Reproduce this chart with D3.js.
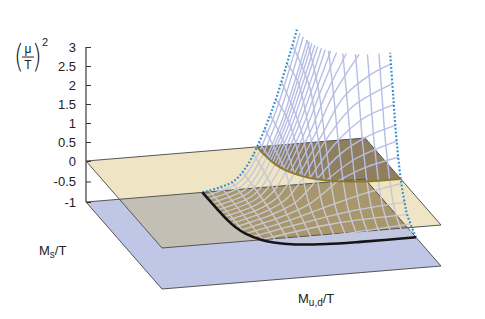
<!DOCTYPE html>
<html><head><meta charset="utf-8">
<script src="https://cdn.jsdelivr.net/npm/d3@7"></script>
<style>html,body{margin:0;background:#fff}svg{display:block}text{font-family:"Liberation Sans",Arial,sans-serif;fill:#222}</style>
</head><body><svg id="c" width="485" height="319"></svg>
<script>
const zTicks=[3,2.5,2,1.5,1,0.5,0,-0.5,-1];
const planeCorners=[[0,0],[1,0],[1,1],[0,1]];
const overlapCorners=[[0,.44],[.88,.44],[.88,1],[0,1]];
// lines of constant Ms: [Ms, [[Mud, z], ...]]
const constMsLines=[
[.04,[[.417,-1],[.535,-.75],[.57,-.5],[.613,0],[.67,1],[.715,2],[.756,3]]],
[.08,[[.417,-1],[.535,-.75],[.57,-.5],[.614,0],[.671,1],[.716,2],[.757,3]]],
[.12,[[.417,-1],[.536,-.75],[.572,-.5],[.615,0],[.673,1],[.718,2],[.76,3]]],
[.14,[[.616,0],[.675,1],[.72,2],[.763,3]]],
[.16,[[.417,-1],[.536,-.75],[.574,-.5],[.618,0],[.677,1],[.723,2],[.766,3]]],
[.18,[[.62,0],[.68,1],[.727,2],[.771,3]]],
[.20,[[.418,-1],[.537,-.75],[.578,-.5],[.623,0],[.684,1],[.731,2],[.776,3]]],
[.22,[[.627,0],[.689,1],[.738,2],[.784,3]]],
[.24,[[.418,-1],[.538,-.75],[.584,-.5],[.631,0],[.694,1],[.745,2],[.792,3]]],
[.26,[[.636,0],[.702,1],[.754,2],[.806,3]]],
[.28,[[.419,-1],[.542,-.75],[.593,-.5],[.642,0],[.71,1],[.764,2],[.822,3]]],
[.30,[[.65,0],[.721,1],[.78,2],[.852,3]]],
[.32,[[.42,-1],[.547,-.75],[.606,-.5],[.659,0],[.734,1],[.8,2],[.892,3]]],
[.34,[[.67,0],[.752,1],[.83,1.95],[.93,2.5],[1,2.72]]],
[.36,[[.422,-1],[.554,-.75],[.622,-.5],[.683,0],[.77,1],[.86,1.75],[1,2.25]]],
[.38,[[.70,0],[.79,.85],[.89,1.45],[1,1.75]]],
[.40,[[.426,-1],[.565,-.75],[.646,-.5],[.719,0],[.80,.6],[.9,1.02],[1,1.25]]],
[.42,[[.748,0],[.85,.5],[1,.88]]],
[.44,[[.432,-1],[.582,-.75],[.68,-.5],[.781,0],[.88,.3],[1,.5]]],
[.48,[[.441,-1],[.606,-.75],[.734,-.5],[.86,-.27],[1,-.09]]],
[.52,[[.454,-1],[.647,-.75],[.80,-.58],[1,-.46]]],
[.56,[[.475,-1],[.739,-.75],[1,-.675]]],
[.60,[[.509,-1],[.75,-.93],[1,-.82]]],
[.64,[[.576,-1],[.8,-.96],[1,-.92]]]];
// lines of constant Mud: [Mud, [[Ms, z], ...]]
const constMudLines=[
[.44,[[.476,-1],[.25,-.97],[0,-.95]]],
[.48,[[.567,-1],[.3,-.93],[0,-.87]]],
[.52,[[.609,-1],[.35,-.88],[0,-.78]]],
[.56,[[.633,-1],[.385,-.75],[0,-.57]]],
[.60,[[.649,-1],[.472,-.75],[.305,-.5],[0,-.15]]],
[.62,[[.177,0],[0,.12]]],
[.64,[[.657,-1],[.515,-.75],[.391,-.5],[.273,0],[0,.47]]],
[.66,[[.322,0],[.18,.5],[0,.82]]],
[.68,[[.663,-1],[.54,-.75],[.44,-.5],[.356,0],[.182,1],[0,1.22]]],
[.70,[[.382,0],[.258,1],[0,1.67]]],
[.72,[[.667,-1],[.555,-.75],[.471,-.5],[.401,0],[.30,1],[.139,2],[0,2.12]]],
[.74,[[.417,0],[.328,1],[.23,2],[0,2.6]]],
[.76,[[.669,-1],[.565,-.75],[.492,-.5],[.429,0],[.349,1],[.273,2],[.119,3]]],
[.80,[[.67,-1],[.57,-.75],[.507,-.5],[.447,0],[.377,1],[.321,2],[.253,3]]],
[.84,[[.67,-1],[.573,-.75],[.516,-.5],[.459,0],[.394,1],[.347,2],[.295,3]]],
[.88,[[.67,-1],[.575,-.75],[.521,-.5],[.465,0],[.403,1],[.36,2],[.316,3]]],
[.92,[[.67,-1],[.575,-.75],[.524,-.5],[.469,0],[.408,1],[.367,2],[.326,3]]],
[.96,[[.67,-1],[.575,-.75],[.525,-.5],[.47,0],[.41,1],[.37,2],[.33,3]]]];
const backEdge=[[.417,-1],[.527,-.8],[.577,-.44],[.613,0],[.67,1],[.715,2],[.756,3]];
const rightEdge=[[.67,-1],[.553,-.69],[.525,-.5],[.47,0],[.41,1],[.37,2],[.33,3]];
const blackCurve=[[.417,0],[.418,.2],[.42,.32],[.426,.40],[.441,.48],[.475,.56],[.509,.60],[.576,.64],[.68,.663],[.8,.67],[1,.67]];
const goldCurve=[[.613,0],[.614,.08],[.623,.2],[.642,.28],[.683,.36],[.719,.40],[.781,.44],[.84,.459],[.92,.469],[1,.47]];

const xU=d3.scaleLinear().domain([0,1]).range([0,279]);
const xV=d3.scaleLinear().domain([0,1]).range([86,162]);
const yU=d3.scaleLinear().domain([0,1]).range([0,-23]);
const yV=d3.scaleLinear().domain([0,1]).range([0,87]);
const yZ=d3.scaleLinear().domain([-1,0,3]).range([202,161,47]);
const P=(u,v,z)=>[xU(u)+xV(v),yZ(z)+yU(u)+yV(v)];
const svg=d3.select("#c");
const poly=d3.line().curve(d3.curveLinear);
const smooth=d3.line().curve(d3.curveCatmullRom.alpha(.5));
const edge="#555";
const gon=(pts,fill,stroke)=>svg.append("path").attr("d",poly(pts)+"Z").attr("fill",fill).attr("stroke",stroke||"none").attr("stroke-width",1);

gon(planeCorners.map(c=>P(c[0],c[1],-1)),"#c0c6e6");
gon(planeCorners.map(c=>P(c[0],c[1],0)),"#efe5c4");
gon(overlapCorners.map(c=>P(c[0],c[1],0)),"#c4bfb5");
// brown regions under the surface
const blackIn=blackCurve.filter(d=>d[1]<=.56);
gon([...blackIn.map(d=>P(d[0],d[1],-1)),P(1,.56,-1),P(1,0,-1)],"#a8966c");
gon([...goldCurve.map(d=>P(d[0],d[1],0)),P(1,0,0)],"#8f7f5e");
// plane outlines
gon(planeCorners.map(c=>P(c[0],c[1],-1)),"none",edge);
gon(planeCorners.map(c=>P(c[0],c[1],0)),"none",edge);

const mesh=svg.append("g").attr("fill","none").attr("stroke-width",1.4);
function drawLine(pts){
  const low=pts.filter(p=>p[2]<=0),up=pts.filter(p=>p[2]>=0);
  if(low.length>1)mesh.append("path").attr("d",smooth(low.map(p=>P(p[0],p[1],p[2])))).attr("stroke","#c8c8d2");
  if(up.length>1)mesh.append("path").attr("d",smooth(up.map(p=>P(p[0],p[1],p[2])))).attr("stroke","#b7bee3");
}
constMsLines.forEach(([v,pts])=>drawLine(pts.map(d=>[d[0],v,d[1]])));
constMudLines.forEach(([u,pts])=>drawLine(pts.map(d=>[u,d[0],d[1]])));

const dots=d=>svg.append("path").attr("d",d).attr("fill","none").attr("stroke","#2f8fd2").attr("stroke-width",2.2).attr("stroke-dasharray","1.8 2").attr("stroke-linecap","butt");
dots(smooth(backEdge.map(d=>P(d[0],0,d[1]))));
dots(smooth(rightEdge.map(d=>P(1,d[0],d[1]))));
svg.append("path").attr("d",smooth(goldCurve.map(d=>P(d[0],d[1],0)))).attr("fill","none").attr("stroke","#8d7c2c").attr("stroke-width",2);
svg.append("path").attr("d",smooth(blackCurve.map(d=>P(d[0],d[1],-1)))).attr("fill","none").attr("stroke","#151515").attr("stroke-width",2.6);

const ax=svg.append("g").attr("transform","translate(86,0)").call(d3.axisLeft(yZ).tickValues(zTicks).tickFormat(d=>String(d)).tickSize(-5).tickSizeOuter(0).tickPadding(10));
ax.select(".domain").attr("stroke",edge).attr("stroke-width",1.4).attr("d","M0,47V202");
ax.selectAll("line").attr("stroke","#333");
ax.selectAll("text").attr("font-size",13).attr("font-family","Liberation Sans").attr("fill","#222");

const T=(s,x,y,fs,a)=>svg.append("text").attr("x",x).attr("y",y).attr("font-size",fs).attr("text-anchor",a||"start").text(s);
T("(",0,0,32).attr("transform","translate(14,67) scale(.78,1)").style("font-family","DejaVu Sans").style("font-weight",200);
T(")",0,0,32).attr("transform","translate(32,67) scale(.78,1)").style("font-family","DejaVu Sans").style("font-weight",200);
T("μ",28,53,12,"middle");
T("T",28,69,12,"middle");
svg.append("line").attr("x1",22).attr("x2",34).attr("y1",57).attr("y2",57).attr("stroke","#222").attr("stroke-width",1);
T("2",42,46,11);
const ms=T("M",39,255,13);ms.append("tspan").attr("font-size",10).attr("dy",3).text("s");ms.append("tspan").attr("dy",-3).text("/T");
const mud=T("M",298,303,13);mud.append("tspan").attr("font-size",10).attr("dy",3).text("u,d");mud.append("tspan").attr("dy",-3).text("/T");
</script></body></html>
